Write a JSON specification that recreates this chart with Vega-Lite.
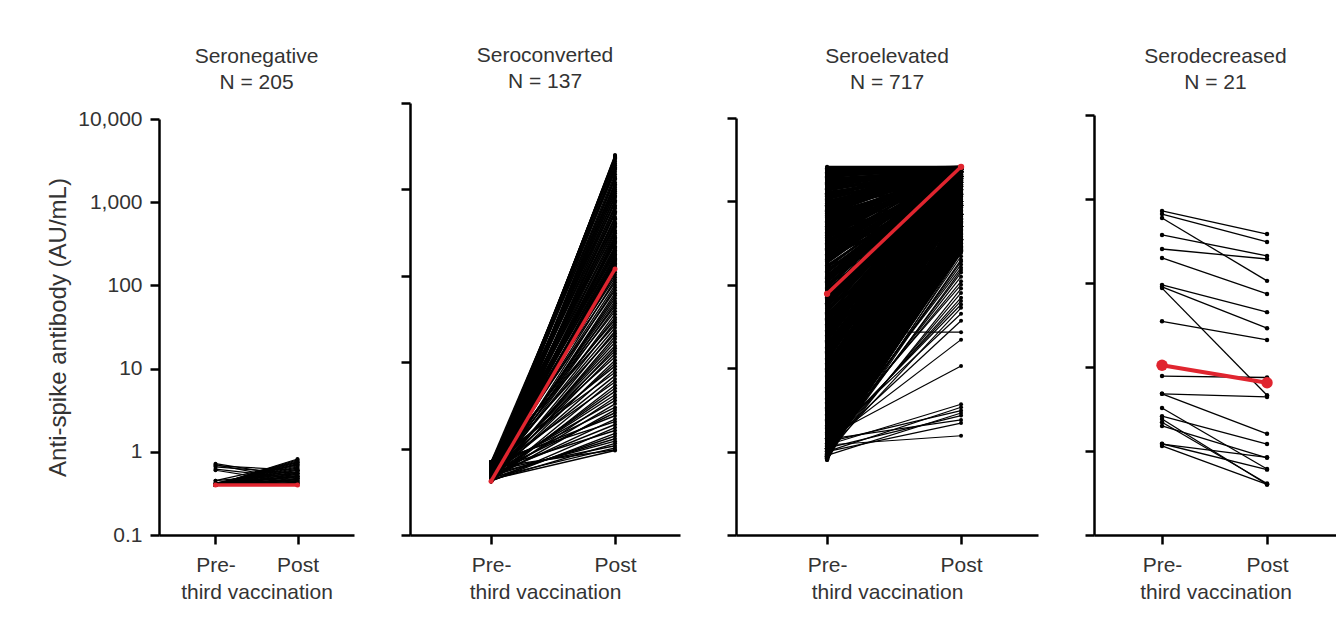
{
  "$schema": "https://vega.github.io/schema/vega-lite/v6.json",
  "background": "white",
  "padding": {"left": 46, "top": 44, "right": 0, "bottom": 0},
  "config": {
    "font": "Liberation Sans",
    "view": {"stroke": null},
    "concat": {"spacing": 45},
    "axis": {"domainColor": "black", "domainWidth": 2.5, "tickColor": "black", "tickWidth": 2.5, "tickSize": 9, "labelFont": "Liberation Sans", "labelFontSize": 21, "labelColor": "#333333", "titleFont": "Liberation Sans", "titleFontSize": 21, "titleFontWeight": "normal", "titleColor": "#333333", "grid": false},
    "title": {"font": "Liberation Sans", "fontSize": 21, "fontWeight": "normal", "color": "#333333", "subtitleFont": "Liberation Sans", "subtitleFontSize": 21, "subtitleColor": "#333333", "subtitlePadding": 5, "offset": 10, "anchor": "middle", "frame": "group"}
  },
  "datasets": {
    "neg": [{"a":0.4,"b":0.41},{"a":0.4,"b":0.42},{"a":0.4,"b":0.43},{"a":0.4,"b":0.44},{"a":0.4,"b":0.45},{"a":0.4,"b":0.46},{"a":0.4,"b":0.47},{"a":0.4,"b":0.48},{"a":0.4,"b":0.5},{"a":0.4,"b":0.51},{"a":0.4,"b":0.52},{"a":0.4,"b":0.54},{"a":0.4,"b":0.55},{"a":0.4,"b":0.57},{"a":0.4,"b":0.58},{"a":0.4,"b":0.6},{"a":0.4,"b":0.62},{"a":0.4,"b":0.64},{"a":0.4,"b":0.66},{"a":0.4,"b":0.68},{"a":0.4,"b":0.7},{"a":0.4,"b":0.72},{"a":0.4,"b":0.74},{"a":0.4,"b":0.76},{"a":0.4,"b":0.78},{"a":0.4,"b":0.8},{"a":0.4,"b":0.82},{"a":0.42,"b":0.5},{"a":0.42,"b":0.6},{"a":0.42,"b":0.7},{"a":0.45,"b":0.55},{"a":0.45,"b":0.75},{"a":0.72,"b":0.5},{"a":0.7,"b":0.45},{"a":0.66,"b":0.55},{"a":0.62,"b":0.48},{"a":0.6,"b":0.42},{"a":0.68,"b":0.6}],
    "negM": [{"a":0.4,"b":0.4}],
    "conv": [{"a":0.42,"b":2500},{"a":0.45,"b":2450},{"a":0.48,"b":2400},{"a":0.5,"b":2350},{"a":0.43,"b":2300},{"a":0.55,"b":2200},{"a":0.46,"b":2100},{"a":0.6,"b":2000},{"a":0.44,"b":1900},{"a":0.52,"b":1800},{"a":0.65,"b":1750},{"a":0.47,"b":1700},{"a":0.7,"b":1600},{"a":0.5,"b":1500},{"a":0.42,"b":1400},{"a":0.57,"b":1350},{"a":0.42,"b":1300},{"a":0.45,"b":1200},{"a":0.48,"b":1150},{"a":0.5,"b":1100},{"a":0.43,"b":1050},{"a":0.55,"b":1000},{"a":0.46,"b":950},{"a":0.6,"b":900},{"a":0.44,"b":850},{"a":0.52,"b":825},{"a":0.65,"b":800},{"a":0.47,"b":750},{"a":0.7,"b":725},{"a":0.5,"b":700},{"a":0.42,"b":650},{"a":0.57,"b":625},{"a":0.42,"b":600},{"a":0.45,"b":560},{"a":0.48,"b":540},{"a":0.5,"b":520},{"a":0.43,"b":480},{"a":0.55,"b":465},{"a":0.46,"b":450},{"a":0.6,"b":420},{"a":0.44,"b":405},{"a":0.52,"b":390},{"a":0.65,"b":375},{"a":0.47,"b":360},{"a":0.7,"b":335},{"a":0.5,"b":322},{"a":0.42,"b":310},{"a":0.57,"b":290},{"a":0.42,"b":280},{"a":0.45,"b":270},{"a":0.48,"b":260},{"a":0.5,"b":250},{"a":0.43,"b":242},{"a":0.55,"b":235},{"a":0.46,"b":220},{"a":0.6,"b":212},{"a":0.44,"b":205},{"a":0.52,"b":198},{"a":0.65,"b":190},{"a":0.47,"b":184},{"a":0.7,"b":178},{"a":0.5,"b":171},{"a":0.42,"b":165},{"a":0.57,"b":160},{"a":0.42,"b":155},{"a":0.45,"b":150},{"a":0.48,"b":145},{"a":0.5,"b":140},{"a":0.43,"b":135},{"a":0.55,"b":130},{"a":0.46,"b":125},{"a":0.6,"b":117},{"a":0.44,"b":110},{"a":0.52,"b":103},{"a":0.65,"b":96},{"a":0.47,"b":90},{"a":0.7,"b":84},{"a":0.5,"b":78},{"a":0.42,"b":73},{"a":0.57,"b":68},{"a":0.42,"b":63},{"a":0.45,"b":59},{"a":0.48,"b":55},{"a":0.5,"b":51},{"a":0.43,"b":48},{"a":0.55,"b":45},{"a":0.46,"b":42},{"a":0.6,"b":39},{"a":0.44,"b":36},{"a":0.52,"b":33},{"a":0.65,"b":31},{"a":0.47,"b":29},{"a":0.7,"b":27},{"a":0.5,"b":25},{"a":0.42,"b":23},{"a":0.57,"b":21.5},{"a":0.42,"b":20},{"a":0.45,"b":18.5},{"a":0.48,"b":17},{"a":0.5,"b":15.5},{"a":0.43,"b":14.5},{"a":0.55,"b":13.5},{"a":0.46,"b":12.5},{"a":0.6,"b":11.5},{"a":0.44,"b":10.5},{"a":0.52,"b":9.7},{"a":0.65,"b":9},{"a":0.47,"b":8.3},{"a":0.7,"b":7.6},{"a":0.5,"b":7},{"a":0.42,"b":6.4},{"a":0.57,"b":5.9},{"a":0.42,"b":5.4},{"a":0.45,"b":5},{"a":0.48,"b":4.6},{"a":0.5,"b":4.2},{"a":0.43,"b":3.9},{"a":0.55,"b":3.6},{"a":0.46,"b":3.3},{"a":0.6,"b":3.0},{"a":0.44,"b":2.8},{"a":0.52,"b":2.6},{"a":0.65,"b":2.4},{"a":0.47,"b":2.2},{"a":0.7,"b":2.05},{"a":0.5,"b":1.9},{"a":0.42,"b":1.75},{"a":0.57,"b":1.62},{"a":0.42,"b":1.5},{"a":0.45,"b":1.4},{"a":0.48,"b":1.3},{"a":0.5,"b":1.22},{"a":0.43,"b":1.15},{"a":0.55,"b":1.08},{"a":0.46,"b":1.02},{"a":0.6,"b":0.97},{"a":0.44,"b":0.95}],
    "convM": [{"a":0.42,"b":120}],
    "elevD": [{"a":0.85,"b":2600},{"a":0.9,"b":2600},{"a":0.96,"b":2500},{"a":1.03,"b":2600},{"a":1.1,"b":2400},{"a":1.18,"b":2600},{"a":1.26,"b":2550},{"a":1.35,"b":2200},{"a":1.45,"b":2600},{"a":1.55,"b":2000},{"a":1.65,"b":2600},{"a":1.77,"b":2600},{"a":1.9,"b":2500},{"a":2.0,"b":2600},{"a":2.15,"b":2400},{"a":2.3,"b":2600},{"a":2.45,"b":2550},{"a":2.6,"b":2200},{"a":2.8,"b":2600},{"a":3.0,"b":2000},{"a":3.2,"b":2600},{"a":3.4,"b":2600},{"a":3.65,"b":2500},{"a":3.9,"b":2600},{"a":4.2,"b":2400},{"a":4.5,"b":2600},{"a":4.8,"b":2550},{"a":5.1,"b":2200},{"a":5.5,"b":2600},{"a":5.9,"b":2000},{"a":6.3,"b":2600},{"a":6.7,"b":2600},{"a":7.2,"b":2500},{"a":7.7,"b":2600},{"a":8.2,"b":2400},{"a":8.8,"b":2600},{"a":9.4,"b":2550},{"a":10,"b":2200},{"a":10.7,"b":2600},{"a":11.5,"b":2000},{"a":12.3,"b":2600},{"a":13.2,"b":2600},{"a":14,"b":2500},{"a":15,"b":2600},{"a":16,"b":2400},{"a":17.2,"b":2600},{"a":18.4,"b":2550},{"a":19.7,"b":2200},{"a":21,"b":2600},{"a":22.5,"b":2000},{"a":24,"b":2600},{"a":25.7,"b":2600},{"a":27.5,"b":2500},{"a":29.5,"b":2600},{"a":31.5,"b":2400},{"a":33.7,"b":2600},{"a":36,"b":2550},{"a":38.5,"b":2200},{"a":41,"b":2600},{"a":44,"b":2000},{"a":47,"b":2600},{"a":50,"b":2600},{"a":54,"b":2500},{"a":58,"b":2600},{"a":62,"b":2400},{"a":66,"b":2600},{"a":71,"b":2550},{"a":76,"b":2200},{"a":81,"b":2600},{"a":87,"b":2000},{"a":93,"b":2600},{"a":100,"b":2600},{"a":107,"b":2500},{"a":114,"b":2600},{"a":122,"b":2400},{"a":131,"b":2600},{"a":140,"b":2550},{"a":150,"b":2200},{"a":160,"b":2600},{"a":171,"b":2000},{"a":183,"b":2600},{"a":196,"b":2600},{"a":210,"b":2500},{"a":225,"b":2600},{"a":240,"b":2400},{"a":257,"b":2600},{"a":275,"b":2550},{"a":294,"b":2200},{"a":315,"b":2600},{"a":337,"b":2000},{"a":360,"b":2600},{"a":385,"b":2600},{"a":412,"b":2500},{"a":441,"b":2600},{"a":472,"b":2400},{"a":505,"b":2600},{"a":540,"b":2550},{"a":578,"b":2200},{"a":618,"b":2600},{"a":661,"b":2000},{"a":707,"b":2600},{"a":757,"b":2600},{"a":810,"b":2500},{"a":867,"b":2600},{"a":928,"b":2400},{"a":993,"b":2600},{"a":1060,"b":2550},{"a":1135,"b":2200},{"a":1215,"b":2600},{"a":1300,"b":2000},{"a":1390,"b":2600},{"a":1490,"b":2600},{"a":1590,"b":2500},{"a":1700,"b":2600},{"a":1820,"b":2400},{"a":1950,"b":2600},{"a":2090,"b":2550},{"a":2230,"b":2400},{"a":2390,"b":2600},{"a":2500,"b":2600},{"a":2600,"b":2600},
{"a":0.87,"b":2600},{"a":0.93,"b":1500},{"a":1.0,"b":2300},{"a":1.06,"b":900},{"a":1.14,"b":2600},{"a":1.22,"b":1200},{"a":1.3,"b":2500},{"a":1.4,"b":700},{"a":1.5,"b":2600},{"a":1.6,"b":1800},{"a":1.71,"b":2600},{"a":1.83,"b":500},{"a":1.95,"b":2600},{"a":2.07,"b":1000},{"a":2.22,"b":2400},{"a":2.37,"b":350},{"a":2.52,"b":2600},{"a":2.7,"b":1500},{"a":2.9,"b":2300},{"a":3.1,"b":900},{"a":3.3,"b":2600},{"a":3.52,"b":1200},{"a":3.77,"b":2500},{"a":4.05,"b":700},{"a":4.35,"b":2600},{"a":4.65,"b":1800},{"a":4.95,"b":2600},{"a":5.3,"b":500},{"a":5.7,"b":2600},{"a":6.1,"b":1000},{"a":6.5,"b":2400},{"a":6.95,"b":350},{"a":7.45,"b":2600},{"a":7.95,"b":1500},{"a":8.5,"b":2300},{"a":9.1,"b":900},{"a":9.7,"b":2600},{"a":10.35,"b":1200},{"a":11.1,"b":2500},{"a":11.9,"b":700},{"a":12.7,"b":2600},{"a":13.6,"b":1800},{"a":14.5,"b":2600},{"a":15.5,"b":500},{"a":16.6,"b":2600},{"a":17.8,"b":1000},{"a":19,"b":2400},{"a":20.3,"b":350},{"a":21.7,"b":2600},{"a":23.2,"b":1500},{"a":24.8,"b":2300},{"a":26.6,"b":900},{"a":28.5,"b":2600},{"a":30.5,"b":1200},{"a":32.6,"b":2500},{"a":34.8,"b":700},{"a":37.2,"b":2600},{"a":39.7,"b":1800},{"a":42.5,"b":2600},{"a":45.5,"b":500},{"a":48.5,"b":2600},{"a":52,"b":1000},{"a":56,"b":2400},{"a":60,"b":350},{"a":64,"b":2600},{"a":68.5,"b":1500},{"a":73.5,"b":2300},{"a":78.5,"b":900},{"a":84,"b":2600},{"a":90,"b":1200},{"a":96.5,"b":2500},{"a":103,"b":700},{"a":110,"b":2600},{"a":118,"b":1800},{"a":126,"b":2600},{"a":135,"b":500},{"a":145,"b":2600},{"a":155,"b":1000},{"a":165,"b":2400},{"a":177,"b":350},{"a":190,"b":2600},{"a":203,"b":1500},{"a":217,"b":2300},{"a":232,"b":900},{"a":248,"b":2600},{"a":266,"b":1200},{"a":285,"b":2500},{"a":304,"b":700},{"a":326,"b":2600},{"a":348,"b":1800},{"a":372,"b":2600},{"a":398,"b":500},{"a":426,"b":2600},{"a":456,"b":1000},{"a":488,"b":2400},{"a":522,"b":2600},{"a":559,"b":2600},{"a":598,"b":1500},{"a":640,"b":2300},{"a":684,"b":900},{"a":732,"b":2600},{"a":783,"b":1200},{"a":838,"b":2500},{"a":897,"b":2600},{"a":960,"b":2600},{"a":1025,"b":1800},{"a":1100,"b":2600},{"a":1175,"b":2600},{"a":1255,"b":2600},{"a":1345,"b":2600},{"a":1440,"b":2400},{"a":1540,"b":2600},{"a":1645,"b":2600},{"a":1760,"b":2600},{"a":1885,"b":2300},{"a":2020,"b":2600},{"a":2160,"b":2600},{"a":2310,"b":2600},{"a":2450,"b":2600},
{"a":205,"b":1900},{"a":230,"b":2100},{"a":262,"b":1700},{"a":300,"b":2300},{"a":340,"b":1600},{"a":392,"b":2500},{"a":430,"b":1400},{"a":500,"b":2200},{"a":560,"b":1700},{"a":650,"b":2450},{"a":720,"b":1900},{"a":800,"b":2300},{"a":900,"b":1700},{"a":1000,"b":2500},{"a":1150,"b":2000},{"a":1250,"b":2450},{"a":1400,"b":2200},{"a":1600,"b":2450},{"a":1800,"b":2500},{"a":2000,"b":2450},{"a":2200,"b":2550},{"a":2400,"b":2500},{"a":120,"b":1700},{"a":80,"b":1300},{"a":60,"b":2100},{"a":40,"b":1600},{"a":25,"b":2300},{"a":18,"b":1400},{"a":270,"b":2450},{"a":320,"b":2050},{"a":365,"b":1850},{"a":460,"b":2550},{"a":530,"b":1950},{"a":600,"b":2350},{"a":690,"b":2150},{"a":760,"b":2450},{"a":860,"b":2050},{"a":950,"b":2350},{"a":1080,"b":2450},{"a":1200,"b":1800},
{"a":0.8,"b":2400},{"a":0.82,"b":2200},{"a":0.85,"b":2000},{"a":0.88,"b":1850},{"a":0.9,"b":1700},{"a":0.95,"b":1550},{"a":1.0,"b":1400},{"a":1.05,"b":1300},{"a":1.1,"b":1200},{"a":1.2,"b":1100},{"a":0.8,"b":1000},{"a":0.82,"b":920},{"a":0.85,"b":850},{"a":0.88,"b":780},{"a":0.9,"b":720},{"a":0.95,"b":660},{"a":1.0,"b":610},{"a":1.05,"b":560},{"a":1.1,"b":520},{"a":1.2,"b":480},{"a":0.8,"b":445},{"a":0.82,"b":410},{"a":0.85,"b":380},{"a":0.88,"b":350},{"a":0.9,"b":325},{"a":0.95,"b":300},{"a":1.0,"b":280},{"a":1.05,"b":260},{"a":1.1,"b":250},{"a":1.2,"b":1900},{"a":0.8,"b":1600},{"a":0.82,"b":1250},{"a":0.85,"b":950},{"a":0.88,"b":700},{"a":0.9,"b":540},{"a":0.95,"b":430},{"a":1.0,"b":340},{"a":1.05,"b":290},{"a":1.1,"b":270},{"a":1.2,"b":255},
{"a":0.83,"b":2300},{"a":0.87,"b":2100},{"a":0.92,"b":1900},{"a":0.97,"b":1750},{"a":1.02,"b":1450},{"a":1.08,"b":1350},{"a":1.15,"b":1150},{"a":1.25,"b":1050},{"a":1.35,"b":880},{"a":1.45,"b":810},{"a":0.83,"b":750},{"a":0.87,"b":690},{"a":0.92,"b":630},{"a":0.97,"b":580},{"a":1.02,"b":500},{"a":1.08,"b":460},{"a":1.15,"b":400},{"a":1.25,"b":365},{"a":1.35,"b":315},{"a":1.45,"b":265}],
    "elevS": [{"a":0.85,"b":240},{"a":1.0,"b":220},{"a":0.9,"b":200},{"a":1.1,"b":190},{"a":1.2,"b":175},{"a":1.3,"b":160},{"a":0.95,"b":150},{"a":1.05,"b":140},{"a":1.15,"b":125},{"a":1.25,"b":110},{"a":1.4,"b":100},{"a":0.9,"b":90},{"a":1.0,"b":80},{"a":1.1,"b":70},{"a":1.2,"b":64},{"a":1.3,"b":58},{"a":1.0,"b":53},{"a":1.4,"b":45},{"a":1.2,"b":37},{"a":1.3,"b":22},{"a":27,"b":27},{"a":1.5,"b":10.6},{"a":1.2,"b":3.7},{"a":1.0,"b":3.4},{"a":1.3,"b":3.1},{"a":0.9,"b":2.9},{"a":1.1,"b":2.7},{"a":1.4,"b":2.4},{"a":1.0,"b":2.2},{"a":1.2,"b":1.55}],
    "elevM": [{"a":78,"b":2600}],
    "decr": [{"a":720,"b":383},{"a":662,"b":308},{"a":594,"b":106},{"a":373,"b":210},{"a":254,"b":193},{"a":199,"b":74},{"a":95,"b":45},{"a":90,"b":29},{"a":87,"b":4.6},{"a":35,"b":21},{"a":7.8,"b":7.5},{"a":4.8,"b":4.4},{"a":4.8,"b":1.6},{"a":3.25,"b":0.61},{"a":2.6,"b":1.21},{"a":2.4,"b":0.4},{"a":2.2,"b":0.41},{"a":1.99,"b":0.83},{"a":1.21,"b":0.84},{"a":1.22,"b":0.6},{"a":1.15,"b":0.4}],
    "decrM": [{"a":10.5,"b":6.5}]
  },
  "hconcat": [
    {
      "width": 195, "height": 432,
      "title": {"text": "Seronegative", "subtitle": "N = 205"},
      "encoding": {
        "x": {"field": "key", "type": "nominal", "scale": {"domain": ["a", "b"], "padding": 0.689, "align": 0.5}, "axis": {"title": "third vaccination", "labelExpr": "datum.value == 'a' ? 'Pre-' : 'Post'", "labelAngle": 0, "labelPadding": 10, "titlePadding": 6}},
        "y": {"field": "value", "type": "quantitative", "scale": {"type": "log", "domain": [0.1, 10000], "range": [432, 16], "nice": false}, "axis": {"values": [0.1, 1, 10, 100, 1000, 10000], "format": ",", "labelPadding": 8, "title": "Anti-spike antibody (AU/mL)", "titleFontSize": 24, "titlePadding": 7}}
      },
      "layer": [
        {"data": {"name": "neg"}, "transform": [{"fold": ["a", "b"]}], "mark": {"type": "line", "color": "black", "strokeWidth": 1.2, "point": {"filled": true, "size": 16, "color": "black"}}, "encoding": {"detail": [{"field": "a"}, {"field": "b"}]}},
        {"data": {"name": "negM"}, "transform": [{"fold": ["a", "b"]}], "mark": {"type": "line", "color": "#e0252f", "strokeWidth": 3.5, "point": {"filled": true, "size": 25, "color": "#e0252f"}}}
      ]
    },
    {
      "width": 270, "height": 432,
      "title": {"text": "Seroconverted", "subtitle": "N = 137"},
      "encoding": {
        "x": {"field": "key", "type": "nominal", "scale": {"domain": ["a", "b"], "padding": 0.589, "align": 0.555}, "axis": {"title": "third vaccination", "labelExpr": "datum.value == 'a' ? 'Pre-' : 'Post'", "labelAngle": 0, "labelPadding": 10, "titlePadding": 6}},
        "y": {"field": "value", "type": "quantitative", "scale": {"type": "log", "domain": [0.1, 10000], "range": [432, 0], "nice": false}, "axis": {"values": [0.1, 1, 10, 100, 1000, 10000], "labels": false, "title": null}}
      },
      "layer": [
        {"data": {"name": "conv"}, "transform": [{"fold": ["a", "b"]}], "mark": {"type": "line", "color": "black", "strokeWidth": 1.4, "point": {"filled": true, "size": 16, "color": "black"}}, "encoding": {"detail": [{"field": "a"}, {"field": "b"}]}},
        {"data": {"name": "convM"}, "transform": [{"fold": ["a", "b"]}], "mark": {"type": "line", "color": "#e0252f", "strokeWidth": 3.5, "point": {"filled": true, "size": 25, "color": "#e0252f"}}}
      ]
    },
    {
      "width": 302, "height": 432,
      "title": {"text": "Seroelevated", "subtitle": "N = 717"},
      "encoding": {
        "x": {"field": "key", "type": "nominal", "scale": {"domain": ["a", "b"], "padding": 0.627, "align": 0.542}, "axis": {"title": "third vaccination", "labelExpr": "datum.value == 'a' ? 'Pre-' : 'Post'", "labelAngle": 0, "labelPadding": 10, "titlePadding": 6}},
        "y": {"field": "value", "type": "quantitative", "scale": {"type": "log", "domain": [0.1, 10000], "range": [432, 15], "nice": false}, "axis": {"values": [0.1, 1, 10, 100, 1000, 10000], "labels": false, "title": null}}
      },
      "layer": [
        {"data": {"name": "elevS"}, "transform": [{"fold": ["a", "b"]}], "mark": {"type": "line", "color": "black", "strokeWidth": 1.2, "point": {"filled": true, "size": 16, "color": "black"}}, "encoding": {"detail": [{"field": "a"}, {"field": "b"}]}},
        {"data": {"name": "elevD"}, "transform": [{"fold": ["a", "b"]}], "mark": {"type": "line", "color": "black", "strokeWidth": 2.2, "point": {"filled": true, "size": 18, "color": "black"}}, "encoding": {"detail": [{"field": "a"}, {"field": "b"}]}},
        {"data": {"name": "elevM"}, "transform": [{"fold": ["a", "b"]}], "mark": {"type": "line", "color": "#e0252f", "strokeWidth": 3.5, "point": {"filled": true, "size": 40, "color": "#e0252f"}}}
      ]
    },
    {
      "width": 243, "height": 432,
      "title": {"text": "Serodecreased", "subtitle": "N = 21"},
      "encoding": {
        "x": {"field": "key", "type": "nominal", "scale": {"domain": ["a", "b"], "padding": 0.657, "align": 0.493}, "axis": {"title": "third vaccination", "labelExpr": "datum.value == 'a' ? 'Pre-' : 'Post'", "labelAngle": 0, "labelPadding": 10, "titlePadding": 6}},
        "y": {"field": "value", "type": "quantitative", "scale": {"type": "log", "domain": [0.1, 10000], "range": [432, 12], "nice": false}, "axis": {"values": [0.1, 1, 10, 100, 1000, 10000], "labels": false, "title": null}}
      },
      "layer": [
        {"data": {"name": "decr"}, "transform": [{"fold": ["a", "b"]}], "mark": {"type": "line", "color": "black", "strokeWidth": 1.3, "point": {"filled": true, "size": 20, "color": "black"}}, "encoding": {"detail": [{"field": "a"}, {"field": "b"}]}},
        {"data": {"name": "decrM"}, "transform": [{"fold": ["a", "b"]}], "mark": {"type": "line", "color": "#e0252f", "strokeWidth": 4, "point": {"filled": true, "size": 130, "color": "#e0252f"}}}
      ]
    }
  ]
}
